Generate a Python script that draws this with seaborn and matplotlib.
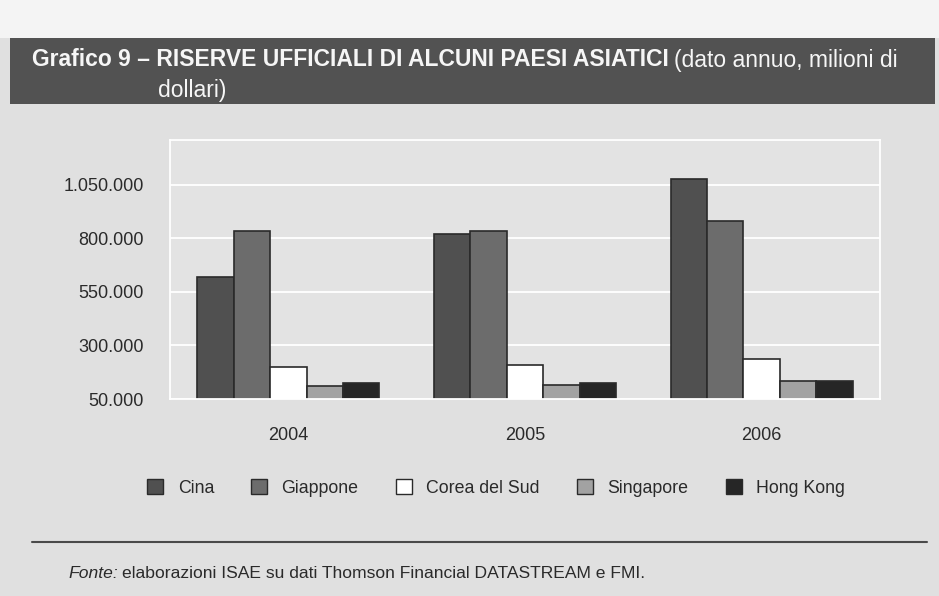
import matplotlib
matplotlib.use('Agg')
import matplotlib.pyplot as plt
import matplotlib.patches as mpatches
from matplotlib.lines import Line2D
import seaborn as sns
import pandas as pd

# data (millions of dollars)
years = ['2004', '2005', '2006']
countries = ['Cina', 'Giappone', 'Corea del Sud', 'Singapore', 'Hong Kong']
cina = [620000, 819000, 1078000]
giappone = [834000, 834000, 880000]
corea = [199000, 210000, 239000]
singapore = [112000, 116000, 134000]
hong_kong = [123000, 124000, 133000]
yticks = [50000, 300000, 550000, 800000, 1050000]
ytick_labels = ['50.000', '300.000', '550.000', '800.000', '1.050.000']

bar_colors = ['#505050', '#6c6c6c', '#ffffff', '#a2a2a2', '#262626']
page_bg = '#e0e0e0'

rows = []
for name, vals in zip(countries, [cina, giappone, corea, singapore, hong_kong]):
    for y, v in zip(years, vals):
        rows.append({'anno': y, 'paese': name, 'valore': v})
df = pd.DataFrame(rows)

sns.set_style("white")
plt.rcParams['font.family'] = ['Liberation Sans', 'DejaVu Sans']

fig = plt.figure(figsize=(9.39, 5.96), dpi=100)
fig.patch.set_facecolor(page_bg)

W, H = 939, 596
def fx(px):
    return px / W
def fy(py):
    return 1 - py / H

# white strip on top and dark title bar
fig.patches.append(mpatches.Rectangle((0, fy(38)), 1, 1 - fy(38), transform=fig.transFigure,
                                      facecolor='#f4f4f4', edgecolor='none', zorder=0))
fig.patches.append(mpatches.Rectangle((fx(10), fy(104)), fx(925), fy(38) - fy(104),
                                      transform=fig.transFigure, facecolor='#525252',
                                      edgecolor='none', zorder=0))

ax = fig.add_axes([fx(170), fy(399), fx(880) - fx(170), fy(140) - fy(399)])
ax.set_facecolor('#e3e3e3')

sns.barplot(data=df, x='anno', y='valore', hue='paese', hue_order=countries,
            palette=bar_colors, width=0.77, edgecolor='#2a2a2a', linewidth=1.2,
            saturation=1, ax=ax, legend=False)

ax.set_ylim(50000, 1260000)
ax.set_xlim(-0.5, 2.5)
ax.set_yticks(yticks)
ax.set_yticklabels(ytick_labels)
ax.set_xlabel('')
ax.set_ylabel('')
ax.grid(axis='y', color='white', linewidth=1.3)
ax.set_axisbelow(True)
for s in ax.spines.values():
    s.set_color('white')
    s.set_linewidth(1.3)
ax.tick_params(axis='y', length=0, pad=19, labelsize=13, labelcolor='#2a2a2a')
ax.tick_params(axis='x', length=0, pad=20, labelsize=13, labelcolor='#2a2a2a')

# legend
handles = [mpatches.Patch(facecolor=c, edgecolor='#2a2a2a', linewidth=1.0) for c in bar_colors]
fig.legend(handles, countries, loc='center', bbox_to_anchor=(fx(496), fy(488)), ncol=5,
           frameon=False, handlelength=0.9, handleheight=0.9, columnspacing=2.1,
           handletextpad=0.8, fontsize=12.8, labelcolor='#2a2a2a')

# separator line
fig.lines.append(Line2D([fx(32), fx(927)], [fy(542), fy(542)], transform=fig.transFigure,
                        color='#4a4a4a', linewidth=1.5))

# title
t1 = fig.text(fx(32), fy(60), 'Grafico 9 \u2013 RISERVE UFFICIALI DI ALCUNI PAESI ASIATICI',
              fontweight='bold', fontsize=16.5, color='#f6f6f6', va='center')
fig.text(fx(158), fy(90), 'dollari)', fontsize=16.5, color='#f6f6f6', va='center')

# source
t2 = fig.text(fx(68), fy(574), 'Fonte:', fontstyle='italic', fontsize=12.6, color='#2a2a2a',
              va='center')

fig.canvas.draw()
r = fig.canvas.get_renderer()
b1 = t1.get_window_extent(r)
fig.text(b1.x1 / W + fx(5), fy(60), '(dato annuo, milioni di', fontsize=16.5,
         color='#f6f6f6', va='center')
b2 = t2.get_window_extent(r)
fig.text(b2.x1 / W + fx(4), fy(574), 'elaborazioni ISAE su dati Thomson Financial DATASTREAM e FMI.',
         fontsize=12.6, color='#2a2a2a', va='center')

fig.savefig('out.png', dpi=100, facecolor=fig.get_facecolor())
